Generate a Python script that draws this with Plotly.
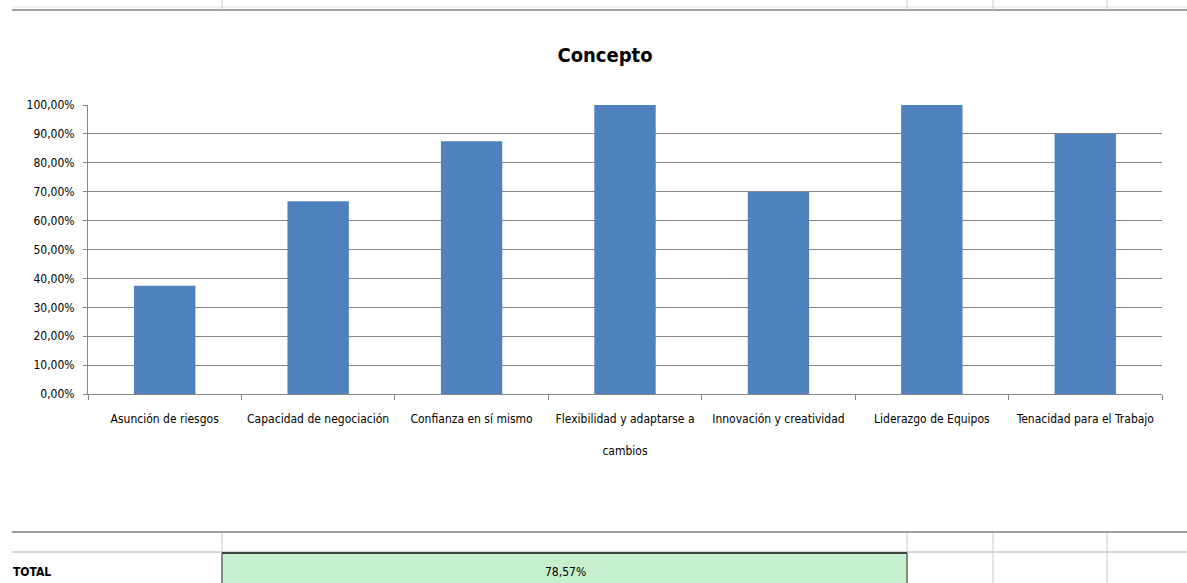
import plotly.graph_objects as go

categories = [
    "Asunción de riesgos",
    "Capacidad de negociación",
    "Confianza en sí mismo",
    "Flexibilidad y adaptarse a<br><br>cambios",
    "Innovación y creatividad",
    "Liderazgo de Equipos",
    "Tenacidad para el Trabajo",
]
values = [0.375, 0.6667, 0.875, 1.0, 0.70, 1.0, 0.90]
title_text = "Concepto"
total_label = "TOTAL"
total_value = "78,57%"

W, H = 1187, 583
L, R, T, B = 88, 1162, 105, 394
FONT = "DejaVu Sans Condensed, Liberation Sans Narrow, sans-serif"

def px(x):
    return (x - L) / (R - L)

def py(y):
    return (B - y) / (B - T)

fig = go.Figure(go.Bar(x=categories, y=values, marker=dict(color="#4F81BD", line=dict(width=0)),
                       width=0.4))

shapes = []
grey = "#c8c8c8"
shapes.append(dict(type="line", xref="paper", yref="paper", x0=px(12), x1=px(1187), y0=py(10), y1=py(10),
                   line=dict(color="#a0a0a0", width=2)))
shapes.append(dict(type="line", xref="paper", yref="paper", x0=px(12), x1=px(1187), y0=py(7), y1=py(7),
                   line=dict(color="#e0e0e0", width=1)))
for xv in [222, 907, 993, 1107]:
    shapes.append(dict(type="line", xref="paper", yref="paper", x0=px(xv), x1=px(xv), y0=py(0), y1=py(10),
                       line=dict(color=grey, width=1)))
shapes.append(dict(type="line", xref="paper", yref="paper", x0=px(12), x1=px(1187), y0=py(532), y1=py(532),
                   line=dict(color="#a0a0a0", width=2)))
shapes.append(dict(type="line", xref="paper", yref="paper", x0=px(12), x1=px(1187), y0=py(552), y1=py(552),
                   line=dict(color="#d8d8d8", width=2)))
for xv in [222, 907, 993, 1107]:
    shapes.append(dict(type="line", xref="paper", yref="paper", x0=px(xv), x1=px(xv), y0=py(533), y1=py(583),
                       line=dict(color=grey, width=1)))
shapes.append(dict(type="rect", xref="paper", yref="paper", x0=px(222), x1=px(907), y0=py(553), y1=py(590),
                   fillcolor="#C6EFCE", line=dict(color="#303030", width=1)))
shapes.append(dict(type="line", xref="paper", yref="paper", x0=px(222), x1=px(907), y0=py(553), y1=py(553),
                   line=dict(color="#404040", width=2)))

annotations = [
    dict(text="<b>" + total_label + "</b>", xref="paper", yref="paper", x=px(11), y=py(572), xanchor="left",
         yanchor="middle", showarrow=False, font=dict(family=FONT, size=12, color="#000000")),
    dict(text=total_value, xref="paper", yref="paper", x=px(565), y=py(572), xanchor="center", yanchor="middle",
         showarrow=False, font=dict(family=FONT, size=12, color="#000000")),
]

fig.update_layout(
    width=W, height=H,
    margin=dict(l=L, r=W - R, t=T, b=H - B, autoexpand=False),
    paper_bgcolor="white", plot_bgcolor="white",
    separators=",.",
    showlegend=False,
    title=dict(text="<b>" + title_text + "</b>", x=605 / W, xanchor="center", y=1 - 55 / H, yanchor="middle",
               font=dict(family=FONT, size=20, color="#000000")),
    font=dict(family=FONT, size=12, color="#000000"),
    xaxis=dict(showline=True, linecolor="#868686", linewidth=1, ticks="outside", tickson="boundaries",
               ticklen=5, tickcolor="#868686", tickangle=0, automargin=False, ticklabelstandoff=14,
               tickfont=dict(family=FONT, size=12, color="#000000"), showgrid=False),
    yaxis=dict(range=[0, 1], dtick=0.1, tickformat=".2%", showline=True, linecolor="#868686",
               linewidth=1, ticks="outside", ticklen=4, tickcolor="#868686", showgrid=True,
               gridcolor="#868686", gridwidth=1, zeroline=False, automargin=False, ticklabelstandoff=6,
               tickfont=dict(family=FONT, size=12, color="#000000")),
    shapes=shapes,
    annotations=annotations,
)

fig.write_html("out.html")
